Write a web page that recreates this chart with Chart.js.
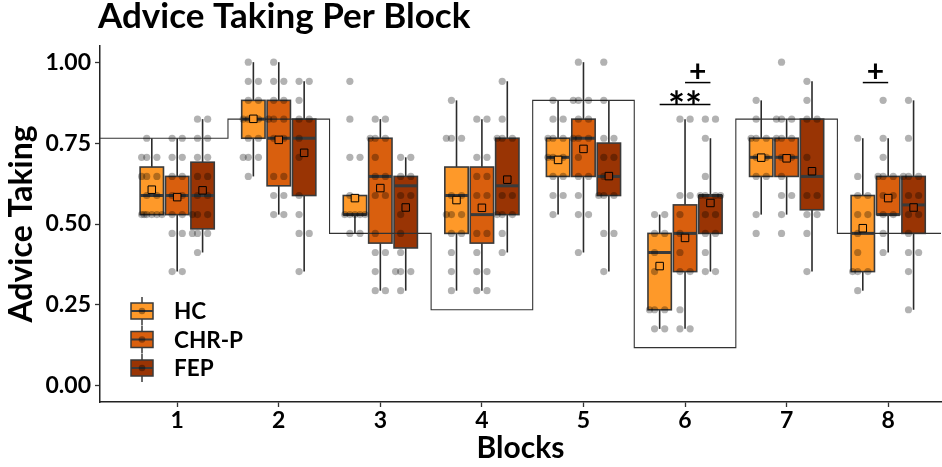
<!DOCTYPE html>
<html>
<head>
<meta charset="utf-8">
<script src="https://cdn.jsdelivr.net/npm/chart.js@4.4.1/dist/chart.umd.min.js"></script>
<style>
  html, body { margin: 0; padding: 0; background: #fff; }
  #wrap { width: 942px; height: 467px; }
</style>
</head>
<body>
<div id="wrap"><canvas id="chart" width="942" height="467"></canvas></div>
<script>
// categories and groups
const blocks = [1, 2, 3, 4, 5, 6, 7, 8];
const groups = ['HC', 'CHR-P', 'FEP'];
const yTicks = [0, 0.25, 0.5, 0.75, 1];

// box stats (per block)
const hcLow  = [0.529, 0.647, 0.471, 0.294, 0.529, 0.176, 0.529, 0.294];
const hcQ1   = [0.529, 0.765, 0.529, 0.471, 0.647, 0.235, 0.647, 0.353];
const hcMed  = [0.588, 0.824, 0.529, 0.588, 0.706, 0.412, 0.706, 0.471];
const hcQ3   = [0.676, 0.882, 0.588, 0.676, 0.765, 0.471, 0.765, 0.588];
const hcHigh = [0.765, 1.000, 0.588, 0.882, 0.882, 0.529, 0.882, 0.765];
const hcMean = [0.606, 0.825, 0.580, 0.574, 0.698, 0.370, 0.705, 0.487];

const chrLow  = [0.353, 0.529, 0.294, 0.294, 0.412, 0.176, 0.529, 0.412];
const chrQ1   = [0.529, 0.618, 0.441, 0.441, 0.647, 0.353, 0.647, 0.529];
const chrMed  = [0.588, 0.765, 0.647, 0.529, 0.765, 0.471, 0.706, 0.529];
const chrQ3   = [0.647, 0.882, 0.765, 0.676, 0.824, 0.559, 0.765, 0.647];
const chrHigh = [0.765, 1.000, 0.824, 0.824, 1.000, 0.824, 0.824, 0.765];
const chrMean = [0.583, 0.760, 0.611, 0.550, 0.732, 0.457, 0.703, 0.580];

const fepLow  = [0.412, 0.353, 0.294, 0.412, 0.353, 0.353, 0.353, 0.235];
const fepQ1   = [0.485, 0.588, 0.426, 0.529, 0.588, 0.471, 0.544, 0.471];
const fepMed  = [0.588, 0.765, 0.618, 0.618, 0.647, 0.588, 0.647, 0.559];
const fepQ3   = [0.691, 0.824, 0.647, 0.765, 0.750, 0.588, 0.824, 0.647];
const fepHigh = [0.824, 0.941, 0.706, 0.941, 0.882, 0.765, 0.941, 0.882];
const fepMean = [0.604, 0.720, 0.551, 0.637, 0.648, 0.565, 0.663, 0.551];

// individual participants (per block)
const hcPoints = [
  [0.765, 0.706, 0.706, 0.706, 0.647, 0.647, 0.647, 0.588, 0.588, 0.529, 0.529, 0.529, 0.529, 0.529, 0.529],
  [1.0, 0.941, 0.941, 0.882, 0.882, 0.824, 0.824, 0.824, 0.765, 0.765, 0.706, 0.706, 0.706, 0.647],
  [0.941, 0.824, 0.706, 0.706, 0.588, 0.529, 0.529, 0.529, 0.529, 0.529, 0.471, 0.471],
  [0.882, 0.765, 0.765, 0.765, 0.588, 0.588, 0.529, 0.529, 0.529, 0.471, 0.471, 0.412, 0.353, 0.294],
  [0.882, 0.824, 0.824, 0.765, 0.765, 0.765, 0.706, 0.706, 0.706, 0.647, 0.647, 0.588, 0.588, 0.529],
  [0.529, 0.529, 0.471, 0.471, 0.412, 0.353, 0.235, 0.235, 0.235, 0.176, 0.176],
  [0.882, 0.824, 0.765, 0.765, 0.765, 0.706, 0.706, 0.647, 0.647, 0.529, 0.471],
  [0.765, 0.647, 0.588, 0.588, 0.529, 0.529, 0.471, 0.412, 0.353, 0.353, 0.353, 0.294]
];
const chrPoints = [
  [0.765, 0.765, 0.706, 0.706, 0.647, 0.647, 0.588, 0.588, 0.529, 0.529, 0.471, 0.471, 0.353, 0.353],
  [1.0, 0.941, 0.941, 0.882, 0.882, 0.824, 0.824, 0.824, 0.765, 0.765, 0.647, 0.647, 0.588, 0.588, 0.529, 0.529],
  [0.824, 0.824, 0.765, 0.765, 0.765, 0.706, 0.647, 0.647, 0.588, 0.588, 0.471, 0.412, 0.412, 0.353, 0.294, 0.294],
  [0.824, 0.824, 0.706, 0.706, 0.647, 0.647, 0.588, 0.588, 0.471, 0.471, 0.412, 0.353, 0.353, 0.294, 0.294],
  [1.0, 0.882, 0.882, 0.882, 0.824, 0.824, 0.765, 0.765, 0.765, 0.706, 0.647, 0.647, 0.588, 0.529, 0.529, 0.412],
  [0.824, 0.824, 0.588, 0.588, 0.529, 0.471, 0.412, 0.353, 0.353, 0.235, 0.176, 0.176],
  [1.0, 0.824, 0.824, 0.824, 0.765, 0.765, 0.765, 0.706, 0.706, 0.647, 0.588, 0.588, 0.529, 0.471],
  [0.882, 0.765, 0.706, 0.647, 0.647, 0.647, 0.588, 0.588, 0.529, 0.529, 0.471, 0.412]
];
const fepPoints = [
  [0.824, 0.824, 0.765, 0.765, 0.706, 0.706, 0.647, 0.647, 0.588, 0.588, 0.529, 0.529, 0.529, 0.471, 0.471, 0.471, 0.412],
  [0.941, 0.941, 0.882, 0.824, 0.824, 0.765, 0.706, 0.588, 0.529, 0.471, 0.471, 0.353],
  [0.706, 0.706, 0.647, 0.647, 0.588, 0.588, 0.529, 0.471, 0.412, 0.353, 0.353, 0.353, 0.294],
  [0.941, 0.824, 0.765, 0.765, 0.765, 0.588, 0.588, 0.529, 0.529, 0.529, 0.471, 0.412],
  [1.0, 0.882, 0.765, 0.765, 0.706, 0.706, 0.647, 0.588, 0.588, 0.588, 0.471, 0.471, 0.353],
  [0.824, 0.824, 0.765, 0.647, 0.588, 0.588, 0.588, 0.588, 0.529, 0.529, 0.471, 0.471, 0.412, 0.353, 0.353],
  [0.941, 0.882, 0.824, 0.824, 0.706, 0.588, 0.588, 0.529, 0.529, 0.471, 0.353],
  [0.882, 0.765, 0.647, 0.647, 0.647, 0.588, 0.588, 0.529, 0.529, 0.471, 0.412, 0.412, 0.353, 0.235]
];

// advisor accuracy step line (block boundaries)
const stepX = [0, 1.5, 2.5, 3.5, 4.5, 5.5, 6.5, 7.5, 9];
const stepY = [0.765, 0.824, 0.471, 0.235, 0.882, 0.118, 0.824, 0.471, 0.471];

// significance marks
const annBlock = [6, 6, 8];
const annFrom  = [0, 1, 0];
const annTo    = [2, 2, 1];
const annY     = [0.869, 0.937, 0.937];
const annText  = ['**', '+', '+'];

const colors = ['#FE9929', '#D95F0E', '#993404'];
const dodge = [-0.25, 0, 0.25];
const boxHalf = 0.115;
const jitter = [-0.05, 0.05, -0.1, 0.1, 0, -0.075, 0.075, -0.025, 0.025];
const FONT = 'Lato, "Open Sans", sans-serif';

const stats = [
  { low: hcLow, q1: hcQ1, med: hcMed, q3: hcQ3, high: hcHigh, mean: hcMean, pts: hcPoints },
  { low: chrLow, q1: chrQ1, med: chrMed, q3: chrQ3, high: chrHigh, mean: chrMean, pts: chrPoints },
  { low: fepLow, q1: fepQ1, med: fepMed, q3: fepQ3, high: fepHigh, mean: fepMean, pts: fepPoints }
];

// jittered points
const pointData = [];
stats.forEach((s, g) => {
  s.pts.forEach((vals, b) => {
    const seen = {};
    vals.forEach(v => {
      const k = seen[v] || 0;
      seen[v] = k + 1;
      pointData.push({ x: blocks[b] + dodge[g] + jitter[k % jitter.length], y: v });
    });
  });
});

const meanSets = stats.map((s, g) => ({
  type: 'scatter',
  label: groups[g] + ' mean',
  data: s.mean.map((m, b) => ({ x: blocks[b] + dodge[g], y: m })),
  pointStyle: 'rect',
  pointRadius: 5.3,
  backgroundColor: colors[g],
  borderColor: '#000',
  borderWidth: 1,
  order: 1
}));

const boxPlugin = {
  id: 'boxes',
  beforeDatasetsDraw(chart) {
    const { ctx, scales: { x, y } } = chart;
    ctx.save();
    stats.forEach((s, g) => {
      blocks.forEach((bl, b) => {
        const cx = x.getPixelForValue(bl + dodge[g]);
        const hw = x.getPixelForValue(bl + dodge[g] + boxHalf) - cx;
        ctx.strokeStyle = '#2b2b2b';
        ctx.lineWidth = 1.6;
        ctx.beginPath();
        ctx.moveTo(cx, y.getPixelForValue(s.low[b]));
        ctx.lineTo(cx, y.getPixelForValue(s.high[b]));
        ctx.stroke();
        const top = y.getPixelForValue(s.q3[b]);
        const bot = y.getPixelForValue(s.q1[b]);
        ctx.fillStyle = colors[g];
        ctx.fillRect(cx - hw, top, hw * 2, bot - top);
        ctx.strokeStyle = '#3a3a3a';
        ctx.lineWidth = 1.6;
        ctx.strokeRect(cx - hw, top, hw * 2, bot - top);
        const my = y.getPixelForValue(s.med[b]);
        ctx.lineWidth = 3;
        ctx.beginPath();
        ctx.moveTo(cx - hw, my);
        ctx.lineTo(cx + hw, my);
        ctx.stroke();
      });
    });
    ctx.restore();
  },
  afterDraw(chart) {
    const { ctx, scales: { x, y } } = chart;
    ctx.save();
    // title
    ctx.fillStyle = '#000';
    ctx.font = 'bold 35px ' + FONT;
    ctx.textAlign = 'left';
    ctx.textBaseline = 'alphabetic';
    ctx.fillText('Advice Taking Per Block', 98, 28);

    // significance marks
    annText.forEach((t, i) => {
      const b = annBlock[i] - 1;
      const x0 = x.getPixelForValue(blocks[b] + dodge[annFrom[i]]);
      const x1 = x.getPixelForValue(blocks[b] + dodge[annTo[i]]);
      const yy = y.getPixelForValue(annY[i]);
      ctx.strokeStyle = '#000';
      ctx.lineWidth = 1.5;
      ctx.beginPath();
      ctx.moveTo(x0, yy);
      ctx.lineTo(x1, yy);
      ctx.stroke();
      ctx.textAlign = 'center';
      ctx.textBaseline = 'alphabetic';
      if (t === '**') {
        ctx.font = 'bold 40px ' + FONT;
        ctx.fillText(t, (x0 + x1) / 2, yy + 16);
      } else {
        ctx.font = 'bold 30px ' + FONT;
        ctx.fillText(t, (x0 + x1) / 2, yy - 1);
      }
    });

    // legend
    groups.forEach((name, i) => {
      const cy = 311 + 28.5 * i;
      const cx = 142;
      ctx.strokeStyle = '#3a3a3a';
      ctx.lineWidth = 1.5;
      ctx.beginPath();
      ctx.moveTo(cx, cy - 14);
      ctx.lineTo(cx, cy + 14);
      ctx.stroke();
      ctx.fillStyle = colors[i];
      ctx.fillRect(cx - 11, cy - 8, 22, 16);
      ctx.strokeRect(cx - 11, cy - 8, 22, 16);
      ctx.lineWidth = 2;
      ctx.beginPath();
      ctx.moveTo(cx - 11, cy);
      ctx.lineTo(cx + 11, cy);
      ctx.stroke();
      ctx.fillStyle = 'rgba(0,0,0,0.35)';
      ctx.beginPath();
      ctx.arc(cx, cy, 3.3, 0, Math.PI * 2);
      ctx.fill();
      ctx.fillStyle = '#000';
      ctx.font = 'bold 22.5px ' + FONT;
      ctx.textAlign = 'left';
      ctx.textBaseline = 'middle';
      ctx.fillText(name, 174, cy + 1);
    });
    ctx.restore();
  }
};

new Chart(document.getElementById('chart'), {
  type: 'scatter',
  data: {
    datasets: [
      ...meanSets,
      {
        type: 'scatter',
        label: 'participants',
        data: pointData,
        pointRadius: 3.6,
        backgroundColor: 'rgba(0,0,0,0.3)',
        borderWidth: 0,
        order: 2
      },
      {
        type: 'line',
        label: 'advisor',
        data: stepX.map((v, i) => ({ x: v, y: stepY[i] })),
        stepped: true,
        borderColor: '#333',
        borderWidth: 1.1,
        pointRadius: 0,
        fill: false,
        order: 3
      }
    ]
  },
  options: {
    responsive: false,
    animation: false,
    layout: { autoPadding: false, padding: { left: 0, top: 46, right: 1, bottom: 0 } },
    plugins: { legend: { display: false }, tooltip: { enabled: false } },
    scales: {
      x: {
        type: 'linear',
        min: 0.24,
        max: 8.52,
        afterBuildTicks: s => { s.ticks = blocks.map(v => ({ value: v })); },
        afterFit: s => { s.height = 65; },
        ticks: { color: '#000', font: { family: FONT, weight: 'bold', size: 23 }, padding: 0 },
        grid: { drawOnChartArea: false, drawTicks: true, tickLength: 5, color: '#333', tickWidth: 1.3 },
        border: { display: true, color: '#222', width: 1.5 },
        title: { display: true, text: 'Blocks', color: '#000', font: { family: FONT, weight: 'bold', size: 30 }, padding: { top: 0, bottom: 1 } }
      },
      y: {
        type: 'linear',
        min: -0.05,
        max: 1.05,
        afterBuildTicks: s => { s.ticks = yTicks.map(v => ({ value: v })); },
        afterFit: s => { s.width = 100; },
        ticks: { color: '#000', font: { family: FONT, weight: 'bold', size: 23 }, padding: 4, callback: v => v.toFixed(2) },
        grid: { drawOnChartArea: false, drawTicks: true, tickLength: 5, color: '#333', tickWidth: 1.3 },
        border: { display: true, color: '#222', width: 1.5 },
        title: { display: true, text: 'Advice Taking', color: '#000', font: { family: FONT, weight: 'bold', size: 32 }, padding: { top: 2, bottom: 0 } }
      }
    }
  },
  plugins: [boxPlugin]
});
</script>
</body>
</html>
